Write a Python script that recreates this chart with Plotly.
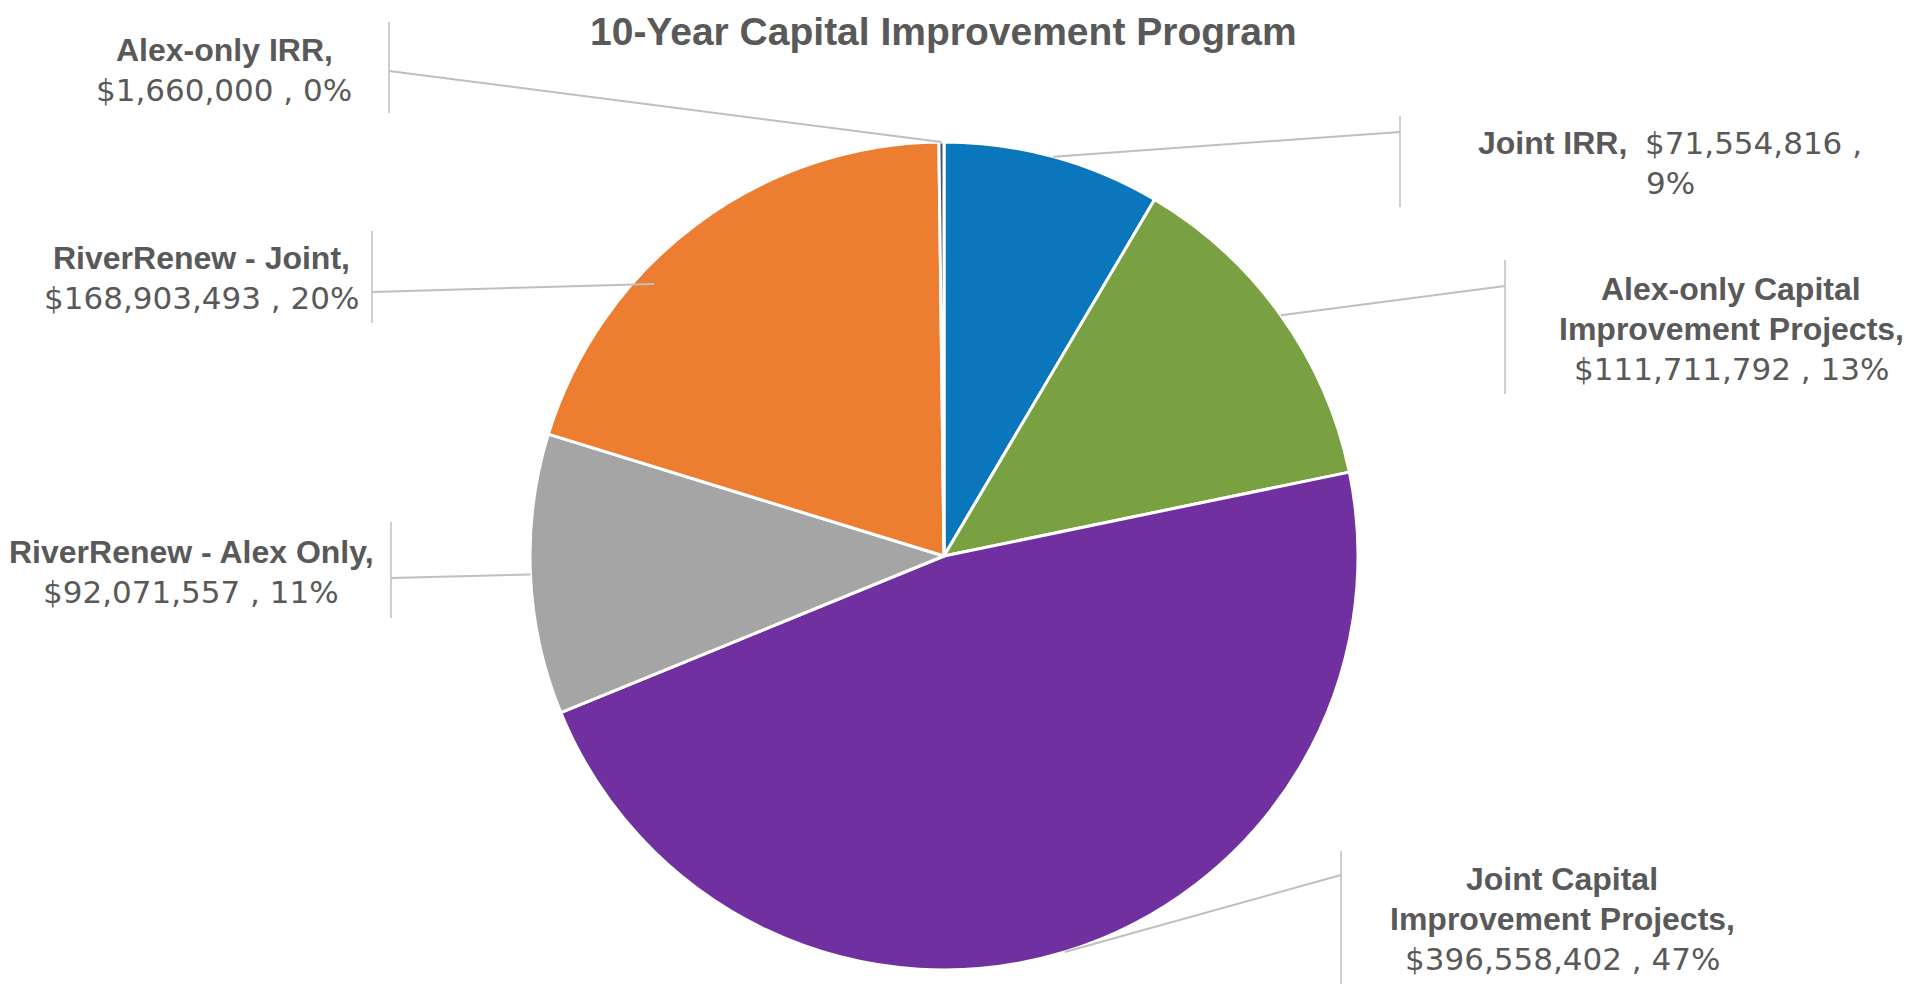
import math
import plotly.graph_objects as go

# ---------------- data ----------------
categories = ["Joint IRR", "Alex-only Capital Improvement Projects",
              "Joint Capital Improvement Projects", "RiverRenew - Alex Only",
              "RiverRenew - Joint", "Alex-only IRR"]
values = [71554816, 111711792, 396558402, 92071557, 168903493, 1660000]
pct_labels = ["9%", "13%", "47%", "11%", "20%", "0%"]
title_text = "10-Year Capital Improvement Program"

# ---------------- styling ----------------
W, H = 1911, 984
OFF = 8                              # page body margin
colors = ["#0A76BC", "#79A142", "#70309F", "#A5A5A5", "#ED7D31", "#44546A"]
FONT_B = "Liberation Sans, Arial, sans-serif"
FONT_R = "DejaVu Sans, sans-serif"
TXT = "#595959"
LEAD = "#BFBFBF"
CX, CY, R = 944, 556, 414          # pie centre / radius in pixels

name_lines = [
    None,  # Joint IRR: name and value on one line
    ["Alex-only Capital", "Improvement Projects,"],
    ["Joint Capital", "Improvement Projects,"],
    ["RiverRenew - Alex Only,"],
    ["RiverRenew - Joint,"],
    ["Alex-only IRR,"],
]
lab_cx = [1670, 1731, 1562, 191, 201, 224]
lab_b0 = [154, 300, 890, 563, 269, 61]
bar_x = [1400, 1505, 1341, 391, 372, 389]
bar_y = [(116, 207), (260, 394), (851, 990), (522, 618), (231, 323), (22, 113)]
attach_y = [132, 286, 875, 578, 292, 71]
end_adj = [(0, 1.0), (0, 1.0), (0, 1.0), (0, 1.0), (-10, 0.96), (0, 1.0)]
LINE = 40
FS_B = 32
FS_R = 31

def px(x):
    return (x - OFF) / W

def py(y):
    return 1 - (y - OFF) / H

fig = go.Figure(go.Pie(
    labels=categories, values=values, sort=False, direction="clockwise",
    rotation=0, textinfo="none", hoverinfo="label+value+percent",
    marker=dict(colors=colors, line=dict(color="white", width=3)),
    domain=dict(x=[px(CX - R), px(CX + R)], y=[py(CY + R), py(CY - R)]),
    showlegend=False,
))

annotations = []
shapes = []

# title (box kept at the top edge)
annotations.append(dict(text="<b>" + title_text + "</b>", x=px(943), y=py(OFF + 0.5),
                        xref="paper", yref="paper", xanchor="center", yanchor="top",
                        showarrow=False, borderpad=0,
                        font=dict(family=FONT_B, size=39, color=TXT)))

total = sum(values)
cum = 0.0
for i, v in enumerate(values):
    mid = (cum + v / 2) / total * 360.0
    cum += v
    val_str = "${:,} , {}".format(v, pct_labels[i])
    if name_lines[i] is None:
        lines = [("<b>" + categories[i] + ",</b>&nbsp;&nbsp;"
                  + "<span style=\"font-family:DejaVu Sans;font-size:%dpx\">${:,} ,</span>".format(v) % FS_R,
                  FONT_B, FS_B),
                 (pct_labels[i], FONT_R, FS_R)]
    else:
        lines = [("<b>" + s + "</b>", FONT_B, FS_B) for s in name_lines[i]] + [(val_str, FONT_R, FS_R)]
    for k, (ln, fam, fs) in enumerate(lines):
        base = lab_b0[i] + k * LINE
        annotations.append(dict(text=ln, x=px(lab_cx[i]), y=py(base - 0.3465 * FS_B),
                                xref="paper", yref="paper", xanchor="center", yanchor="middle",
                                showarrow=False, font=dict(family=fam, size=fs, color=TXT)))
    # vertical bar next to label
    shapes.append(dict(type="line", xref="paper", yref="paper",
                       x0=px(bar_x[i]), x1=px(bar_x[i]), y0=py(bar_y[i][0]), y1=py(bar_y[i][1]),
                       line=dict(color=LEAD, width=1.5)))
    # leader line to slice
    ang = math.radians(mid + end_adj[i][0])
    rr = R * end_adj[i][1]
    ex = CX + rr * math.sin(ang)
    ey = CY - rr * math.cos(ang)
    shapes.append(dict(type="line", xref="paper", yref="paper",
                       x0=px(bar_x[i]), y0=py(attach_y[i]), x1=px(ex), y1=py(ey),
                       line=dict(color=LEAD, width=2)))

fig.update_layout(
    width=W, height=H, autosize=False,
    margin=dict(l=0, r=0, t=0, b=0),
    paper_bgcolor="white", plot_bgcolor="white",
    annotations=annotations, shapes=shapes,
    font=dict(family=FONT_B, color=TXT),
)

fig.write_html("out.html")
